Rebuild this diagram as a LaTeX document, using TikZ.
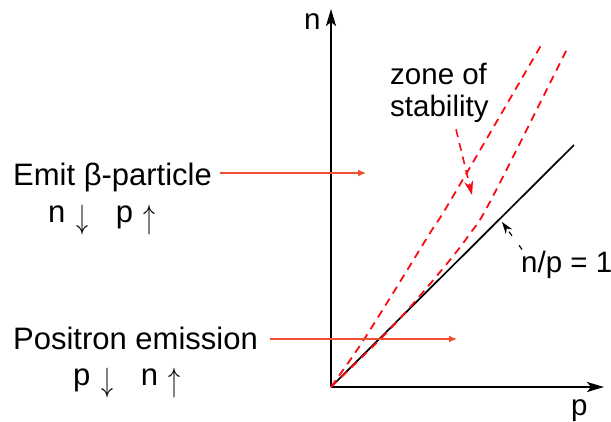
\documentclass[tikz,border=0pt]{standalone}
\usepackage{graphicx}
\usepackage{fontspec}
\setmainfont{Liberation Sans}
\usepackage{tikz}
\usetikzlibrary{positioning,arrows.meta,calc}
\definecolor{hintred}{RGB}{240,80,50}
\definecolor{zonered}{RGB}{250,10,20}

\tikzset{
  lab/.style={inner sep=0pt, anchor=base west, font=\fontsize{31}{37}\selectfont},
  side/.style={inner sep=0pt, anchor=base west, font=\fontsize{29.5}{32}\selectfont},
  axis/.style={line width=2.2pt, -{Stealth[length=17pt,width=10pt,inset=4pt]}},
  hint/.style={hintred, line width=1.3pt, -{Latex[length=8pt,width=7pt]}},
  zoneline/.style={zonered, line width=1.8pt, dash pattern=on 8pt off 6pt},
}
\newcommand{\dn}{\makebox[16pt]{\raisebox{-6.5pt}{\resizebox*{12pt}{30pt}{$\downarrow$}}}}
\newcommand{\up}{\makebox[16pt]{\raisebox{-6.5pt}{\resizebox*{12pt}{30pt}{$\uparrow$}}}}

\begin{document}
\begin{tikzpicture}[x=1pt,y=-1pt]
\useasboundingbox (0,0) rectangle (611,421);

% Axes
\coordinate (O) at (331,387);
\coordinate (ytip) at (331,9);
\coordinate (xtip) at (604,387);
\draw[axis] (O) -- (ytip);
\draw[axis] (O) -- (xtip);
\node[side] (nlab) at (304,29) {n};
\node[side] (plab) at (571,415) {p};

% n/p = 1
\coordinate (diag) at (574,145);
\draw[line width=1.7pt] (O) -- (diag);

% zone of stability
\draw[zoneline] plot[smooth, tension=0.6] coordinates {(331,387) (359,347) (390,298) (430,233) (452,198) (543,42)};
\draw[zoneline] plot[smooth, tension=0.6] coordinates {(331,387) (392,327) (440,272) (469,235) (492,198) (568,47)};

% labels on the right
\node[side] (zone1) at (390,84) {zone of};
\node[side] (zone2) at (390,116) {stability};
\coordinate (zonetip) at (472,195);
\draw[zonered, line width=1.6pt, dash pattern=on 8pt off 6pt, -{Stealth[length=14pt,width=9pt]}] (zone2.south west) ++(66,7) -- (zonetip);

\node[side] (nplab) at (521,272) {n/p = 1};
\coordinate (npmark) at (502,222);
\draw[line width=1.2pt, dash pattern=on 5pt off 12pt, -{Stealth[length=12pt,width=8pt]}] (nplab.north west) ++(1,-1) -- (npmark);

% labels on the left
\node[lab] (emit) at (13,185) {Emit β-particle};
\node[lab] (emitnp) at (48,222) {n \dn\ \ \ p \up};
\coordinate (emitend) at (366,173);
\draw[hint] (emit.base east) ++(8,-12) -- (emitend);

\node[lab] (posi) at (13,349) {Positron emission};
\node[lab] (posinp) at (73,385) {p \dn\ \ \ n \up};
\coordinate (posiend) at (457,339);
\draw[hint] (posi.base east) ++(12,-10) -- (posiend);
\end{tikzpicture}
\end{document}
